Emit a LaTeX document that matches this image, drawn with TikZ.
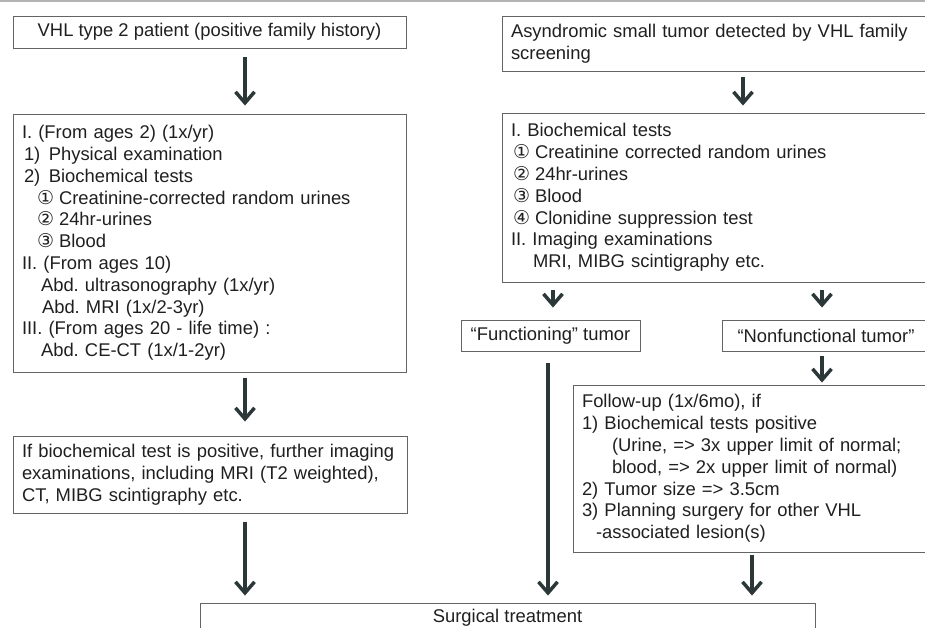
\documentclass[tikz,border=0pt]{standalone}
\usepackage{fontspec}
\setmainfont{Liberation Sans}
\newfontfamily\circfont{DejaVu Sans}
\usetikzlibrary{arrows.meta}
\definecolor{arrowgray}{RGB}{44,56,56}
\definecolor{linegray}{RGB}{100,100,100}
\newcommand{\cnum}[1]{{\circfont\fontsize{19}{21.8}\selectfont #1}\hspace{5pt}}
\frenchspacing

\begin{document}
\begin{tikzpicture}[x=1pt,y=-1pt,
    box/.style={draw=linegray,line width=.9pt,inner xsep=9pt,inner ysep=0pt,
      font=\fontsize{18.4}{21.8}\selectfont,text=black!88},
    txtbox/.style={box,align=left,text width=#1},
    arr/.style={-{Straight Barb[length=11pt,width=19pt]},line width=3.5pt,arrowgray}]
  \clip (0,0) rectangle (925,628);
  \draw[gray!60,line width=1.2pt] (0,1)--(925,1);
  \node[box,minimum width=393pt,minimum height=32pt] (patient) at (209.5,32) {VHL type 2 patient (positive family history)};
  \node[txtbox=375pt,minimum height=258pt] (plan) at (209.5,243) {I. (From ages 2) (1x/yr)\\
    \hspace*{2pt}1)\hspace{8.5pt}Physical examination\\
    \hspace*{2pt}2)\hspace{8.5pt}Biochemical tests\\
    \hspace*{15pt}\cnum{①}Creatinine-corrected random urines\\
    \hspace*{15pt}\cnum{②}24hr-urines\\
    \hspace*{15pt}\cnum{③}Blood\\
    II. (From ages 10)\\
    \hspace*{19pt}Abd. ultrasonography (1x/yr)\\
    \hspace*{20pt}Abd. MRI (1x/2-3yr)\\
    III. (From ages 20 - life time) :\\
    \hspace*{19pt}Abd. CE-CT (1x/1-2yr)};
  \node[txtbox=376pt,minimum height=77pt] (imaging) at (210,474.5) {If biochemical test is positive, further imaging\\
    examinations, including MRI (T2 weighted),\\
    CT, MIBG scintigraphy etc.};
  \node[box,minimum width=615pt,minimum height=30pt] (surgery) at (507.5,618) {Surgical treatment};
  \node[txtbox=422pt,minimum height=55pt] (screen) at (722,43.5) {Asyndromic small tumor detected by VHL family\\
    screening};
  \node[txtbox=422pt,minimum height=169pt] (tests) at (722,197.5) {I. Biochemical tests\\
    \hspace*{2pt}\cnum{①}Creatinine corrected random urines\\
    \hspace*{2pt}\cnum{②}24hr-urines\\
    \hspace*{2pt}\cnum{③}Blood\\
    \hspace*{2pt}\cnum{④}Clonidine suppression test\\
    II. Imaging examinations\\
    \hspace*{22pt}MRI, MIBG scintigraphy etc.};
  \node[box,minimum width=179pt,minimum height=31pt] (func) at (550.5,335.5) {“Functioning” tumor};
  \node[box,minimum width=208pt,minimum height=31pt] (nonfunc) at (826,335.5) {“Nonfunctional tumor”};
  \node[txtbox=352pt,minimum height=167pt] (follow) at (758,468.5) {Follow-up (1x/6mo), if\\
    1) Biochemical tests positive\\
    \hspace*{30pt}(Urine, => 3x upper limit of normal;\\
    \hspace*{30pt}blood, => 2x upper limit of normal)\\
    2) Tumor size => 3.5cm\\
    3) Planning surgery for other VHL\\
    \hspace*{14pt}-associated lesion(s)};
  \draw[arr,shorten <=9pt,shorten >=8pt] ([xshift=35.5pt]patient.south)--([xshift=35.5pt]plan.north);
  \draw[arr,shorten <=6pt,shorten >=14pt] ([xshift=35.5pt]plan.south)--([xshift=35pt]imaging.north);
  \draw[arr,shorten <=9pt,shorten >=7pt] ([xshift=35pt]imaging.south)--([xshift=-262.5pt]surgery.north);
  \draw[arr,shorten <=6pt,shorten >=7pt] ([xshift=21pt]screen.south)--([xshift=21pt]tests.north);
  \draw[arr,shorten <=8pt,shorten >=12pt] ([xshift=-169pt]tests.south)--([xshift=2.5pt]func.north);
  \draw[arr,shorten <=8pt,shorten >=12pt] ([xshift=100pt]tests.south)--([xshift=-4pt]nonfunc.north);
  \draw[arr,shorten <=5pt,shorten >=2pt] ([xshift=-4pt]nonfunc.south)--([xshift=64pt]follow.north);
  \draw[arr,shorten <=12pt,shorten >=7pt] ([xshift=-2.5pt]func.south)--([xshift=40.5pt]surgery.north);
  \draw[arr,shorten <=3pt,shorten >=7pt] ([xshift=-6pt]follow.south)--([xshift=244.5pt]surgery.north);
\end{tikzpicture}
\end{document}
